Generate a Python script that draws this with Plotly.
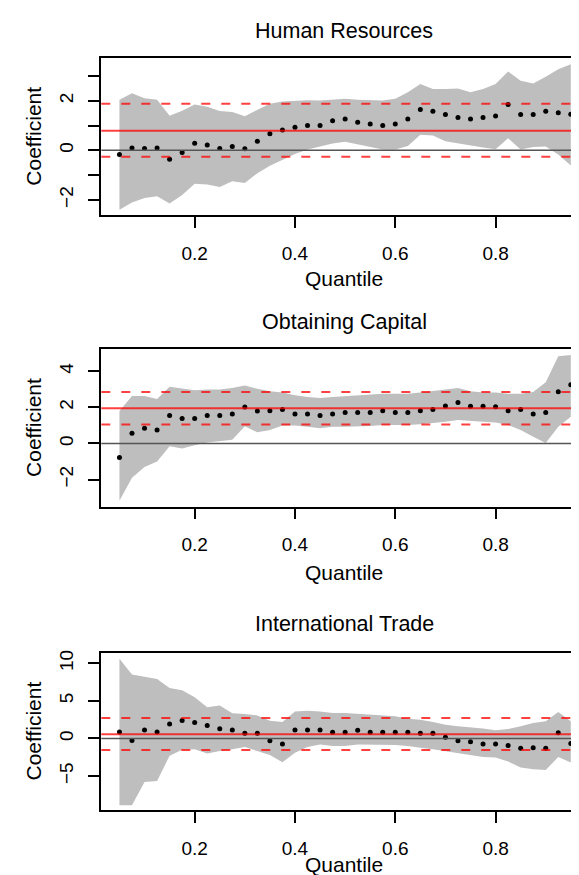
import plotly.graph_objects as go

# ---------------- data ----------------
quantiles = [0.05, 0.075, 0.1, 0.125, 0.15, 0.175, 0.2, 0.225, 0.25, 0.275,
             0.3, 0.325, 0.35, 0.375, 0.4, 0.425, 0.45, 0.475, 0.5, 0.525,
             0.55, 0.575, 0.6, 0.625, 0.65, 0.675, 0.7, 0.725, 0.75, 0.775,
             0.8, 0.825, 0.85, 0.875, 0.9, 0.925, 0.95]

titles = ["Human Resources", "Obtaining Capital", "International Trade"]

# Human Resources
hr_coef = [-0.17, 0.09, 0.07, 0.09, -0.36, -0.09, 0.29, 0.22, 0.07, 0.16,
           0.06, 0.37, 0.67, 0.82, 0.93, 1.00, 1.00, 1.19, 1.26, 1.13,
           1.06, 1.00, 1.06, 1.26, 1.65, 1.58, 1.45, 1.33, 1.26, 1.33,
           1.39, 1.85, 1.45, 1.45, 1.58, 1.52, 1.46]
hr_upper = [2.04, 2.30, 2.10, 2.04, 1.40, 1.60, 1.85, 1.76, 1.59, 1.55,
            1.38, 1.63, 1.88, 1.97, 2.01, 2.02, 2.01, 2.04, 2.08, 2.04,
            2.01, 2.01, 2.08, 2.34, 2.68, 2.48, 2.48, 2.50, 2.34, 2.48,
            2.68, 3.18, 2.81, 2.70, 2.97, 3.27, 3.47]
hr_lower = [-2.40, -2.10, -1.92, -1.85, -2.14, -1.80, -1.35, -1.38, -1.48, -1.25,
            -1.32, -0.92, -0.62, -0.38, -0.15, 0.03, 0.15, 0.28, 0.35, 0.27,
            0.14, 0.03, 0.03, 0.18, 0.63, 0.60, 0.37, 0.28, 0.20, 0.12,
            0.04, 0.49, 0.03, 0.14, 0.16, -0.17, -0.61]
hr_ols = [0.79, -0.26, 1.88]          # estimate, lower CI, upper CI
hr_yticks = [-2, -1, 0, 1, 2, 3]
hr_yticklabels = ["\u22122", "", "0", "", "2", ""]
hr_yrange = [-2.62, 3.72]

# Obtaining Capital
oc_coef = [-0.78, 0.57, 0.84, 0.75, 1.55, 1.39, 1.38, 1.55, 1.55, 1.63,
           2.02, 1.80, 1.81, 1.88, 1.63, 1.63, 1.55, 1.63, 1.72, 1.72,
           1.72, 1.81, 1.72, 1.72, 1.81, 1.88, 2.08, 2.27, 2.07, 2.07,
           2.03, 1.81, 1.88, 1.63, 1.72, 2.87, 3.25]
oc_upper = [1.80, 2.63, 2.63, 2.47, 3.15, 3.04, 2.95, 3.00, 3.00, 3.07,
            3.22, 3.03, 2.89, 2.82, 2.67, 2.58, 2.52, 2.58, 2.63, 2.67,
            2.71, 2.76, 2.76, 2.76, 2.82, 2.89, 3.00, 3.07, 2.89, 2.82,
            2.82, 2.76, 2.76, 2.85, 3.40, 4.83, 4.90]
oc_lower = [-3.17, -1.90, -1.30, -1.00, -0.15, -0.28, -0.10, 0.06, 0.12, 0.20,
            0.95, 0.62, 0.75, 1.00, 1.00, 0.93, 0.84, 0.93, 0.93, 0.93,
            0.97, 1.02, 1.02, 1.02, 1.06, 1.12, 1.21, 1.30, 1.24, 1.21,
            1.17, 1.02, 0.75, 0.38, 0.02, 0.93, 1.48]
oc_ols = [1.96, 1.05, 2.85]
oc_yticks = [-2, 0, 2, 4]
oc_yticklabels = ["\u22122", "0", "2", "4"]
oc_yrange = [-3.5, 5.22]

# International Trade
it_coef = [0.85, -0.28, 1.12, 0.85, 1.91, 2.40, 2.13, 1.72, 1.28, 1.12,
           0.70, 0.70, -0.29, -0.72, 1.12, 1.12, 1.12, 0.82, 0.82, 1.08,
           0.82, 0.82, 0.82, 0.82, 0.70, 0.70, 0.15, -0.29, -0.44, -0.72,
           -0.72, -0.92, -1.30, -1.24, -1.30, 0.75, -0.66]
it_upper = [10.6, 8.5, 8.2, 7.9, 6.7, 6.4, 5.5, 4.15, 4.4, 3.35,
            3.25, 3.07, 2.37, 2.19, 3.6, 3.68, 3.6, 3.38, 3.38, 3.25,
            3.16, 3.07, 2.94, 2.63, 2.5, 2.19, 1.84, 1.62, 1.49, 1.32,
            1.1, 1.25, 1.62, 2.06, 2.28, 3.51, 2.28]
it_lower = [-8.9, -8.9, -5.8, -5.65, -2.3, -1.5, -1.45, -2.0, -1.67, -1.45,
            -1.14, -1.67, -2.19, -3.15, -1.89, -1.14, -0.79, -1.0, -1.0, -0.79,
            -0.79, -0.88, -0.88, -1.0, -1.23, -1.45, -1.67, -2.02, -2.19, -2.46,
            -2.54, -3.07, -3.86, -4.08, -4.21, -2.46, -3.2]
it_ols = [0.57, -1.55, 2.72]
it_yticks = [-5, 0, 5, 10]
it_yticklabels = ["\u22125", "0", "5", "10"]
it_yrange = [-9.55, 11.4]

xticks = [0.2, 0.4, 0.6, 0.8]
xticklabels = ["0.2", "0.4", "0.6", "0.8"]
xrange = [0.0138, 0.9823]

# ---------------- layout helpers ----------------
W, H = 579, 875
FONT = "Liberation Sans, Arial, Helvetica, sans-serif"
left_px = 93.3
panels_px = [(47.3, 205.0), (339.5, 497.3), (644.0, 802.0)]  # top, bottom in px
title_px = [20, 312, 615]
xlabel_px = [268, 563, 856]

panels = [
    (hr_coef, hr_upper, hr_lower, hr_ols, hr_yticks, hr_yticklabels, hr_yrange),
    (oc_coef, oc_upper, oc_lower, oc_ols, oc_yticks, oc_yticklabels, oc_yrange),
    (it_coef, it_upper, it_lower, it_ols, it_yticks, it_yticklabels, it_yrange),
]

fig = go.Figure()
shapes = []
annotations = []
layout_axes = {}

for i, (coef, up, lo, ols, ytv, ytt, yr) in enumerate(panels):
    n = "" if i == 0 else str(i + 1)
    xa, ya = "x" + n, "y" + n
    top, bot = panels_px[i]

    # confidence band
    fig.add_trace(go.Scatter(
        x=quantiles + quantiles[::-1], y=up + lo[::-1],
        xaxis=xa, yaxis=ya, mode="lines", fill="toself",
        fillcolor="#bebebe", line=dict(width=0, color="#bebebe"),
        hoverinfo="skip", showlegend=False))
    # quantile coefficients
    fig.add_trace(go.Scatter(
        x=quantiles, y=coef, xaxis=xa, yaxis=ya, mode="markers",
        marker=dict(size=5, color="black"), showlegend=False))

    # reference lines
    shapes.append(dict(type="line", xref=xa + " domain", yref=ya,
                       x0=0, x1=1, y0=0, y1=0, layer="above",
                       line=dict(color="#555555", width=1.5)))
    shapes.append(dict(type="line", xref=xa + " domain", yref=ya,
                       x0=0, x1=1, y0=ols[0], y1=ols[0], layer="above",
                       line=dict(color="rgba(255,0,0,0.75)", width=2)))
    for v in ols[1:]:
        shapes.append(dict(type="line", xref=xa + " domain", yref=ya,
                           x0=0, x1=1, y0=v, y1=v, layer="above",
                           line=dict(color="rgba(255,0,0,0.75)", width=2,
                                     dash="9px,11px")))

    dom = [1 - bot / H, 1 - top / H]
    layout_axes["xaxis" + n] = dict(
        domain=[left_px / W, 1], range=xrange, anchor=ya,
        tickmode="array", tickvals=xticks, ticktext=xticklabels,
        ticks="outside", ticklen=11, tickwidth=1.5, tickcolor="black",
        showline=True, linecolor="black", linewidth=1.8, mirror=True,
        showgrid=False, zeroline=False, ticklabelstandoff=9,
        tickfont=dict(size=19, color="black", family=FONT))
    layout_axes["yaxis" + n] = dict(
        domain=dom, range=yr, anchor=xa,
        tickmode="array", tickvals=ytv, ticktext=ytt, tickangle=-90,
        ticks="outside", ticklen=11, tickwidth=1.5, tickcolor="black",
        showline=True, linecolor="black", linewidth=1.8, mirror=False,
        showgrid=False, zeroline=False, ticklabelstandoff=8,
        tickfont=dict(size=19, color="black", family=FONT))

    cx = ((left_px + W) / 2) / W
    annotations.append(dict(text=titles[i], xref="paper", yref="paper",
                            x=cx, y=1 - title_px[i] / H, showarrow=False,
                            xanchor="center", yanchor="middle",
                            font=dict(size=21.5, color="black", family=FONT)))
    annotations.append(dict(text="Quantile", xref="paper", yref="paper",
                            x=cx, y=1 - xlabel_px[i] / H, showarrow=False,
                            xanchor="center", yanchor="middle",
                            font=dict(size=21, color="black", family=FONT)))
    annotations.append(dict(text="Coefficient", xref="paper", yref="paper",
                            x=26 / W, y=1 - ((top + bot) / 2) / H,
                            showarrow=False, textangle=-90,
                            xanchor="center", yanchor="middle",
                            font=dict(size=21, color="black", family=FONT)))

fig.update_layout(
    width=W, height=H, margin=dict(l=0, r=0, t=0, b=0),
    paper_bgcolor="white", plot_bgcolor="white", showlegend=False,
    font=dict(family=FONT, color="black"),
    shapes=shapes, annotations=annotations, **layout_axes)

fig.write_html("out.html")
